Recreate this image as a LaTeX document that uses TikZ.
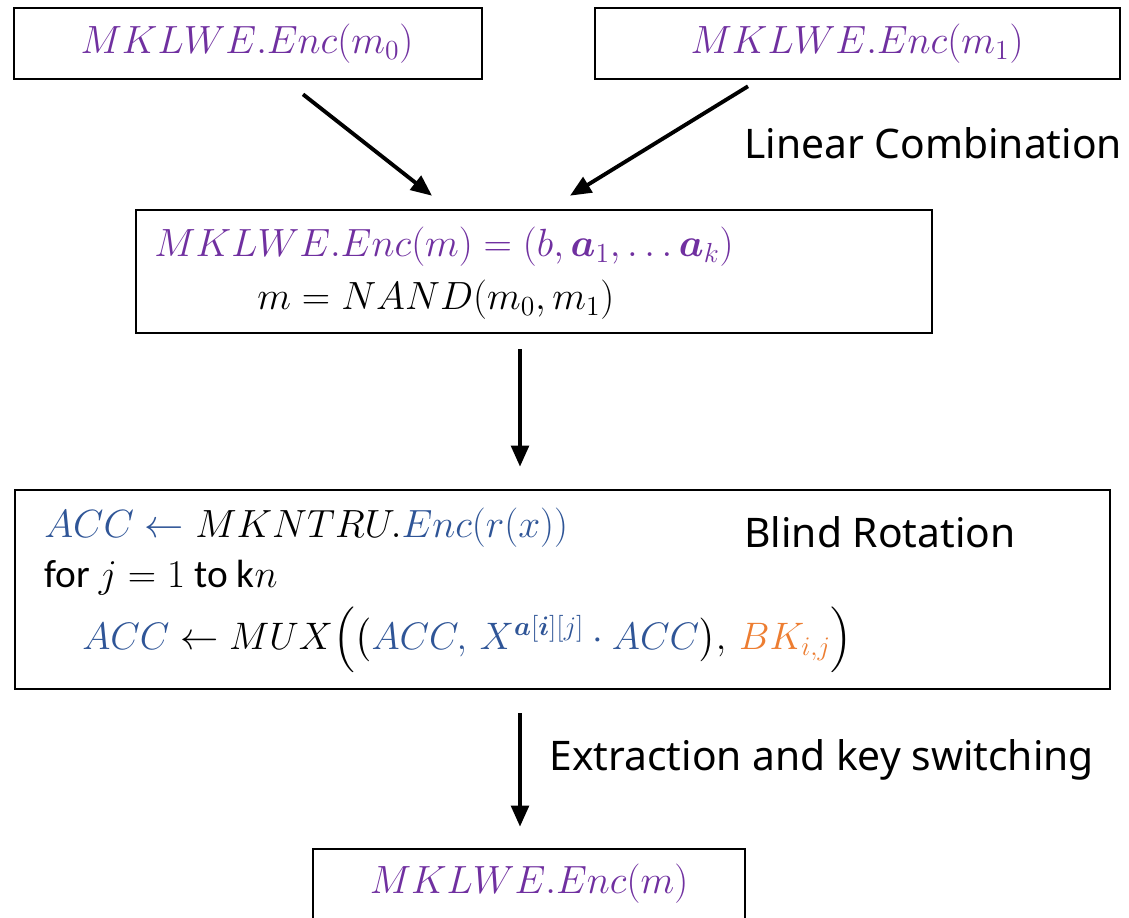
\RequirePackage{fix-cm}
\documentclass[tikz,border=0pt]{standalone}
\usepackage{amsmath}
\usepackage{fontspec}
\setmainfont{Carlito}
\newfontfamily\labelfont{Noto Sans}
\usetikzlibrary{arrows.meta,calc}
\definecolor{mpurple}{HTML}{7030A0}
\definecolor{mblue}{HTML}{2F5597}
\definecolor{morange}{HTML}{ED7D31}
\begin{document}
\begin{tikzpicture}[x=0.02cm,y=-0.02cm,
  box/.style={draw,line width=1.5pt,inner sep=0pt},
  arr/.style={-{Triangle[length=12pt,width=10pt]},line width=2.2pt},
  mtext/.style={inner sep=0pt,font=\fontsize{22.4}{27}\selectfont},
  lbl/.style={inner sep=0pt,anchor=west,font=\labelfont\fontsize{23.2}{27}\selectfont}]
\clip (0,0) rectangle (1129,917);
\fill[white] (0,0) rectangle (1129,917);
% boxes
\node[box,minimum width=9.36cm,minimum height=1.42cm] (b1) at (248,43.5) {};
\node[box,minimum width=10.5cm,minimum height=1.42cm] (b2) at (857.5,43.5) {};
\node[box,minimum width=15.92cm,minimum height=2.46cm] (b3) at (534,271.5) {};
\node[box,minimum width=21.9cm,minimum height=3.98cm] (b4) at (562.5,589.5) {};
\node[box,minimum width=8.64cm,minimum height=2cm] (b5) at (529,899) {};
% texts
\node[mtext,text=mpurple] (t1) at (247,44) {$MKLWE.Enc(m_0)$};
\node[mtext,text=mpurple] (t2) at (857,44) {$MKLWE.Enc(m_1)$};
\node[mtext,anchor=west,text=mpurple] (t3a) at (154,247) {$MKLWE.Enc(m)=(b,\boldsymbol{a}_1,\ldots\boldsymbol{a}_k)$};
\node[mtext,anchor=west] (t3b) at (257,300) {$m=NAND(m_0,m_1)$};
\node[mtext,anchor=west] (t4a) at (44,528) {$\color{mblue}ACC\leftarrow \color{black}MKNTRU.\color{mblue}Enc(r(x))$};
\node[mtext,anchor=west] (t4b) at (44,578) {for $j=1$ to k$n$};
\node[mtext,anchor=west,font=\fontsize{21.8}{26}\selectfont] (t4c) at (82,640) {$\color{mblue}ACC\color{black}\leftarrow MUX\Big(\big(\color{mblue}ACC,\,X^{\boldsymbol{a}[\boldsymbol{i}][j]}\cdot ACC\color{black}\big),\,\color{morange}BK_{i,j}\color{black}\Big)$};
\node[mtext,text=mpurple] (t5) at (529,884) {$MKLWE.Enc(m)$};
% labels
\node[lbl] (l1) at (744,143) {Linear Combination};
\node[lbl] (l2) at (744,532) {Blind Rotation};
\node[lbl] (l3) at (549,760) {Extraction and key switching};
% arrows
\draw[arr] ($(b1.south)+(55,14)$) -- ($(b3.north)+(-102,-13)$);
\draw[arr] ($(b2.south)+(-109.5,6)$) -- ($(b3.north)+(36,-13)$);
\draw[arr] ($(b3.south)+(-14,15)$) -- ($(b4.north)+(-42.5,-22)$);
\draw[arr] ($(b4.south)+(-42.5,23)$) -- ($(b5.north)+(-9,-21)$);
\end{tikzpicture}
\end{document}
